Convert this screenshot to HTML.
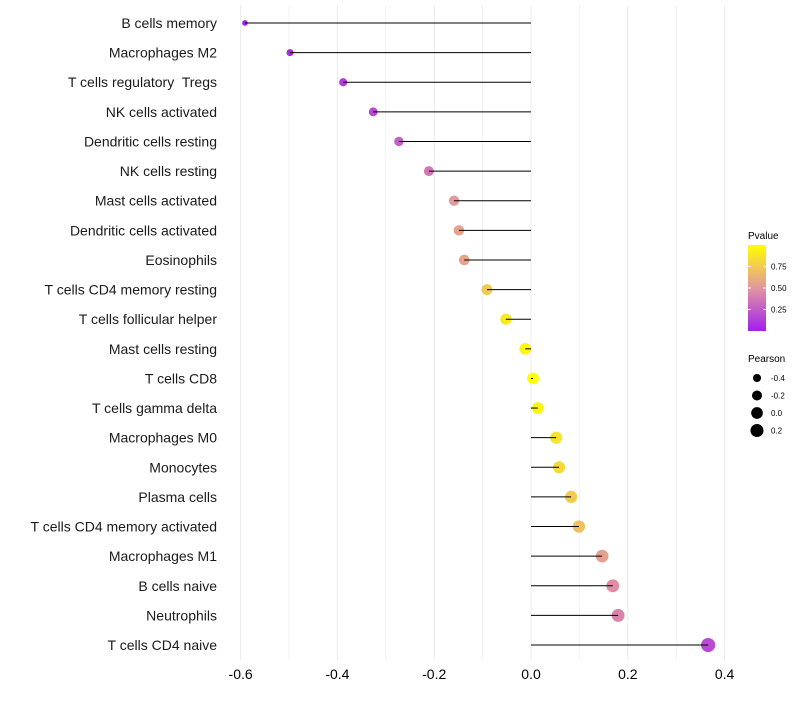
<!DOCTYPE html>
<html><head><meta charset="utf-8"><style>
body{margin:0;background:#fff;font-family:"Liberation Sans",Arial,sans-serif}
text{white-space:pre}
</style></head><body>
<svg id="c" width="800" height="700" xmlns="http://www.w3.org/2000/svg" font-family="Liberation Sans, Arial, sans-serif"></svg>
<script>
const categories=["B cells memory","Macrophages M2","T cells regulatory  Tregs","NK cells activated","Dendritic cells resting","NK cells resting","Mast cells activated","Dendritic cells activated","Eosinophils","T cells CD4 memory resting","T cells follicular helper","Mast cells resting","T cells CD8","T cells gamma delta","Macrophages M0","Monocytes","Plasma cells","T cells CD4 memory activated","Macrophages M1","B cells naive","Neutrophils","T cells CD4 naive"];
const pearson=[-0.591,-0.498,-0.388,-0.326,-0.273,-0.211,-0.159,-0.149,-0.138,-0.091,-0.052,-0.012,0.004,0.014,0.052,0.058,0.083,0.099,0.147,0.169,0.180,0.366];
const pvalue=[0.0,0.03,0.12,0.17,0.27,0.37,0.52,0.56,0.57,0.75,0.9,0.96,1.0,0.95,0.86,0.82,0.76,0.7,0.55,0.46,0.43,0.18];
const xTicks=[-0.6,-0.4,-0.2,0.0,0.2,0.4];
const xMinor=[-0.5,-0.3,-0.1,0.1,0.3];
const pTicks=[0.25,0.5,0.75];
const sizeTicks=[-0.4,-0.2,0.0,0.2];
const svg=document.getElementById('c');const NS='http://www.w3.org/2000/svg';
function mk(t,a,p){const e=document.createElementNS(NS,t);for(const k in a)e.setAttribute(k,a[k]);(p||svg).appendChild(e);return e;}
const X=v=>531+v*484;
const Y=i=>23+i*29.62;
const R=v=>Math.sqrt(Math.max(2,34+44*v));
function lerp(a,b,t){return a.map((x,i)=>Math.round(x+(b[i]-x)*t));}
function col(p){const c0=[160,32,240],c1=[226,150,160],c2=[255,255,0];const c=p<0.5?lerp(c0,c1,p/0.5):lerp(c1,c2,(p-0.5)/0.5);return `rgb(${c})`;}
[...xTicks,...xMinor].forEach(v=>{const g=mk('line',{x1:X(v),x2:X(v),y1:5,y2:660,stroke:'#ebebeb','stroke-width':xTicks.includes(v)?1:0.6});

});
xTicks.forEach(v=>{const t=mk('text',{x:X(v),y:679,'font-size':14,'text-anchor':'middle',fill:'#000'});t.textContent=v.toFixed(1);

});
categories.forEach((c,i)=>{
const t=mk('text',{x:217,y:Y(i)+5,'font-size':14,'text-anchor':'end',fill:'#1a1a1a'});t.textContent=c;


const pt=mk('circle',{cx:X(pearson[i]),cy:Y(i),r:R(pearson[i]),fill:col(pvalue[i])});


const l=mk('line',{x1:X(pearson[i]),x2:X(0),y1:Y(i),y2:Y(i),stroke:'#000','stroke-width':1});


});
const lt=mk('text',{x:748,y:239,'font-size':10});lt.textContent='Pvalue';


const defs=mk('defs',{});const gr=mk('linearGradient',{id:'g',x1:0,y1:1,x2:0,y2:0},defs);
[0,0.25,0.5,0.75,1].forEach(o=>mk('stop',{offset:o,'stop-color':col(o)},gr));
const bar=mk('rect',{x:748,y:245,width:18,height:86,fill:'url(#g)'});


const PY=p=>331-p*86;
pTicks.forEach(p=>{mk('line',{x1:748,x2:751,y1:PY(p),y2:PY(p),stroke:'#fff'});mk('line',{x1:763,x2:766,y1:PY(p),y2:PY(p),stroke:'#fff'});
const t=mk('text',{x:771,y:PY(p)+3,'font-size':8});t.textContent=p.toFixed(2);

});
const st=mk('text',{x:748,y:362,'font-size':10});st.textContent='Pearson';


sizeTicks.forEach((v,i)=>{const y=378+i*17.5;const c=mk('circle',{cx:757,cy:y,r:R(v),fill:'#000'});


const t=mk('text',{x:771,y:y+3,'font-size':8});t.textContent=v.toFixed(1);

});
</script>
</body></html>
